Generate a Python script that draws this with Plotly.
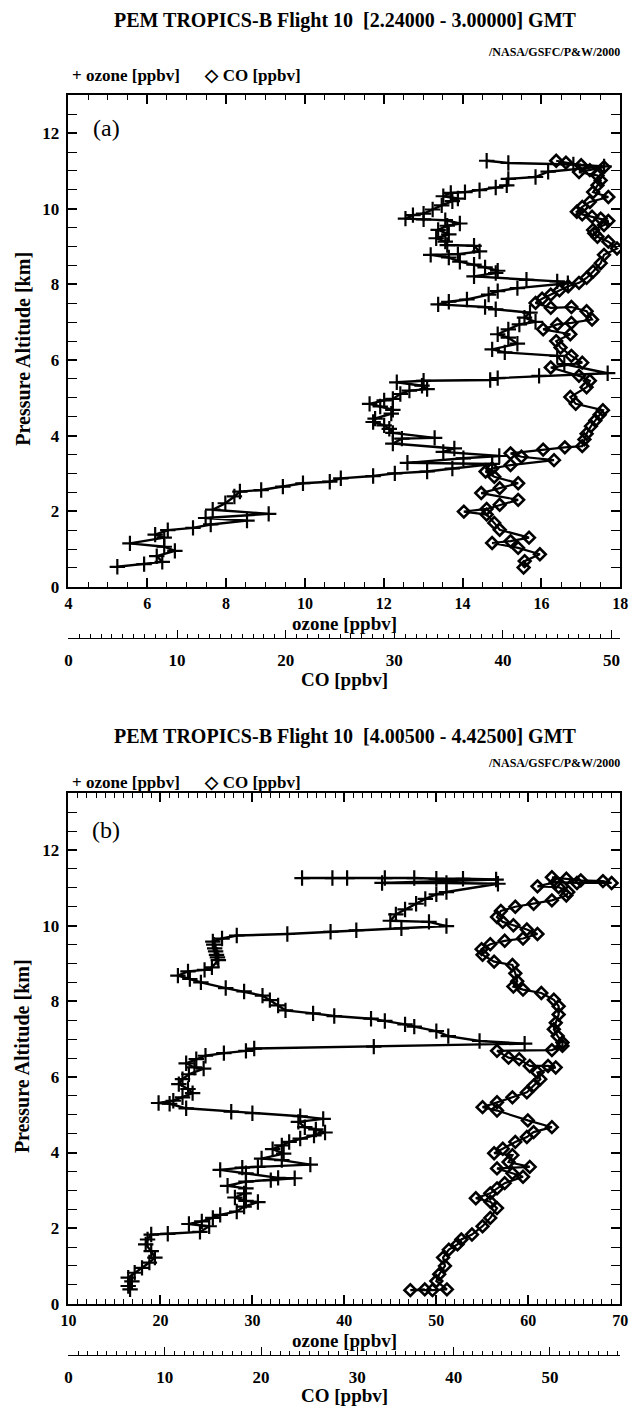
import plotly.graph_objects as go

W, H = 639, 1418
SERIF = "Liberation Serif"

# ---- Flight 10, 2.24000 - 3.00000 GMT ----
alt_o3_a = [11.27, 11.21, 11.17, 11.12, 10.98, 10.84, 10.79, 10.62, 10.56, 10.49,
            10.44, 10.42, 10.33, 10.27, 10.20, 10.09, 9.98, 9.87, 9.83, 9.74,
            9.72, 9.70, 9.61, 9.55, 9.44, 9.32, 9.22, 9.13, 9.04, 9.02,
            8.87, 8.80, 8.78, 8.71, 8.60, 8.52, 8.45, 8.36, 8.30, 8.21,
            8.12, 8.08, 8.03, 7.90, 7.82, 7.73, 7.60, 7.54, 7.47, 7.40,
            7.34, 7.25, 7.12, 7.01, 6.94, 6.81, 6.68, 6.59, 6.43, 6.28,
            6.20, 6.11, 5.89, 5.65, 5.58, 5.52, 5.47, 5.45, 5.41, 5.32,
            5.23, 5.19, 5.10, 4.97, 4.93, 4.84, 4.77, 4.68, 4.58, 4.45,
            4.36, 4.27, 4.18, 4.07, 3.94, 3.92, 3.79, 3.66, 3.57, 3.46,
            3.40, 3.28, 3.25, 3.13, 3.05, 3.00, 2.93, 2.87, 2.78, 2.74,
            2.65, 2.56, 2.52, 2.39, 2.21, 2.04, 1.93, 1.82, 1.75, 1.65,
            1.56, 1.50, 1.38, 1.30, 1.15, 1.06, 0.95, 0.81, 0.66, 0.60,
            0.53]
o3_a = [14.61, 15.16, 16.81, 17.59, 16.17, 15.85, 15.16, 15.12, 14.84, 14.43,
        14.06, 13.70, 13.51, 13.88, 13.74, 13.47, 13.24, 13.01, 12.74, 12.55,
        13.01, 13.56, 13.93, 13.61, 13.38, 13.65, 13.33, 13.56, 13.61, 14.29,
        14.43, 13.88, 13.19, 13.65, 13.93, 14.29, 14.57, 14.89, 14.84, 14.29,
        15.62, 16.40, 16.67, 15.39, 14.89, 14.66, 14.11, 13.65, 13.38, 14.57,
        14.84, 15.71, 15.57, 15.85, 15.44, 15.16, 14.89, 15.16, 15.39, 14.75,
        15.07, 16.40, 16.58, 17.68, 15.94, 14.89, 14.70, 13.01, 12.33, 12.97,
        13.10, 12.65, 12.42, 12.23, 12.01, 11.64, 11.91, 12.23, 12.19, 11.78,
        11.73, 12.01, 12.14, 12.23, 13.29, 12.46, 12.23, 13.79, 13.51, 14.93,
        14.02, 12.60, 14.75, 13.74, 13.10, 12.28, 11.73, 10.91, 10.63, 9.95,
        9.44, 8.89, 8.35, 8.21, 7.98, 7.66, 9.08, 7.48, 8.53, 7.61,
        7.16, 6.52, 6.20, 6.43, 5.56, 6.43, 6.70, 6.24, 6.38, 5.92,
        5.24]
alt_co_a = [11.27, 11.22, 11.15, 11.10, 11.02, 10.97, 10.88, 10.75, 10.62, 10.44,
            10.31, 10.18, 10.05, 9.92, 9.85, 9.79, 9.74, 9.68, 9.57, 9.44,
            9.35, 9.26, 9.13, 8.95, 8.78, 8.56, 8.34, 8.17, 8.04, 7.95,
            7.84, 7.73, 7.62, 7.51, 7.38, 7.40, 7.29, 7.07, 6.98, 6.94,
            6.81, 6.68, 6.50, 6.33, 6.11, 5.93, 5.80, 5.58, 5.45, 5.28,
            5.02, 4.84, 4.67, 4.55, 4.40, 4.25, 4.05, 3.90, 3.72, 3.69,
            3.63, 3.53, 3.44, 3.35, 3.22, 3.13, 3.05, 2.91, 2.74, 2.61,
            2.48, 2.30, 2.17, 2.06, 1.99, 1.91, 1.69, 1.51, 1.30, 1.21,
            1.16, 1.03, 0.86, 0.68, 0.51]
co_a = [44.9, 45.8, 47.2, 49.3, 48.0, 47.0, 48.7, 49.0, 48.7, 48.3,
        49.7, 48.0, 47.3, 46.8, 47.3, 48.2, 49.0, 49.7, 49.3, 48.3,
        48.4, 48.7, 49.7, 50.5, 49.3, 49.0, 48.3, 47.7, 47.0, 46.0,
        45.2, 44.4, 43.6, 43.0, 44.4, 46.3, 47.7, 48.2, 46.3, 45.0,
        43.7, 46.2, 44.9, 45.3, 46.3, 47.3, 44.4, 47.0, 48.0, 47.7,
        46.2, 46.7, 49.2, 48.9, 48.5, 48.1, 47.7, 47.5, 47.3, 45.7,
        43.7, 40.7, 41.7, 44.7, 40.7, 39.0, 38.4, 39.2, 41.4, 39.7,
        38.0, 41.4, 39.7, 38.5, 36.4, 38.5, 39.2, 39.7, 42.4, 40.7,
        39.0, 41.4, 43.4, 42.0, 41.9]

# ---- Flight 10, 4.00500 - 4.42500 GMT ----
alt_o3_b = [11.26, 11.26, 11.26, 11.26, 11.26, 11.24, 11.24, 11.22, 11.13, 11.13,
            11.11, 10.89, 10.83, 10.71, 10.58, 10.43, 10.30, 10.13, 10.10, 9.99,
            9.93, 9.88, 9.84, 9.78, 9.74, 9.66, 9.58, 9.50, 9.40, 9.32,
            9.23, 9.16, 9.09, 8.90, 8.83, 8.79, 8.68, 8.59, 8.50, 8.35,
            8.26, 8.15, 8.03, 7.89, 7.76, 7.68, 7.61, 7.54, 7.48, 7.39,
            7.33, 7.21, 7.08, 6.95, 6.88, 6.80, 6.75, 6.69, 6.63, 6.56,
            6.47, 6.36, 6.25, 6.22, 6.07, 5.94, 5.81, 5.68, 5.57, 5.46,
            5.37, 5.31, 5.29, 5.17, 5.08, 5.04, 4.96, 4.89, 4.81, 4.67,
            4.61, 4.53, 4.45, 4.37, 4.28, 4.19, 4.09, 3.97, 3.84, 3.80,
            3.68, 3.62, 3.60, 3.54, 3.45, 3.33, 3.32, 3.27, 3.23, 3.12,
            3.05, 2.92, 2.81, 2.72, 2.69, 2.57, 2.44, 2.35, 2.27, 2.18,
            2.11, 2.05, 1.90, 1.85, 1.83, 1.70, 1.57, 1.39, 1.22, 1.09,
            0.95, 0.82, 0.69, 0.59, 0.47, 0.38]
o3_b = [35.4, 38.7, 40.3, 44.4, 47.6, 50.0, 52.9, 56.5, 44.1, 51.1,
        56.7, 51.1, 50.0, 48.8, 47.8, 46.6, 45.6, 45.0, 49.2, 51.1,
        46.2, 41.3, 38.5, 33.8, 28.3, 26.7, 25.7, 25.8, 25.9, 26.0,
        26.1, 26.2, 26.3, 25.6, 24.8, 23.0, 21.9, 23.2, 24.4, 27.1,
        29.1, 31.1, 31.9, 32.8, 33.6, 36.6, 38.9, 42.9, 44.4, 46.6,
        47.6, 50.0, 51.3, 54.7, 59.6, 43.2, 30.2, 29.3, 26.9, 24.9,
        23.9, 22.8, 23.7, 24.7, 23.1, 22.4, 22.0, 23.0, 23.5, 22.4,
        21.4, 19.8, 21.0, 22.8, 27.7, 30.0, 35.2, 37.7, 35.0, 35.7,
        36.9, 37.9, 36.7, 35.2, 34.0, 33.2, 32.2, 33.4, 31.0, 33.2,
        36.3, 30.6, 28.9, 26.5, 29.3, 32.8, 34.6, 32.0, 29.3, 27.3,
        29.3, 29.1, 28.1, 29.3, 30.6, 29.1, 28.3, 26.5, 25.7, 24.5,
        23.1, 25.3, 24.3, 20.8, 19.0, 18.6, 18.4, 19.0, 19.4, 18.8,
        18.0, 17.2, 16.5, 16.9, 16.5, 16.7]
alt_co_b = [11.28, 11.24, 11.20, 11.18, 11.13, 11.13, 11.15, 11.04, 11.02, 10.89,
            10.80, 10.67, 10.58, 10.50, 10.39, 10.23, 10.10, 10.01, 9.90, 9.78,
            9.66, 9.60, 9.51, 9.38, 9.23, 9.05, 8.96, 8.74, 8.53, 8.39,
            8.31, 8.22, 8.04, 7.87, 7.65, 7.43, 7.26, 7.08, 6.91,
            6.82, 6.71, 6.69, 6.51, 6.47, 6.29, 6.29, 6.25, 6.12, 5.94, 5.77,
            5.59, 5.46, 5.33, 5.20, 5.11, 4.85, 4.67, 4.54, 4.41, 4.28,
            4.10, 3.98, 3.93, 3.75, 3.62, 3.58, 3.45, 3.36, 3.19, 3.05,
            2.92, 2.79, 2.70, 2.53, 2.27, 2.05, 1.83, 1.70, 1.57, 1.43,
            1.22, 1.00, 0.78, 0.60, 0.38, 0.36, 0.36, 0.38]
co_b = [50.2, 51.7, 53.2, 55.5, 56.4, 52.8, 50.6, 48.7, 50.9, 51.9,
        51.7, 50.2, 48.3, 46.4, 44.9, 44.5, 45.1, 46.2, 47.6, 48.7,
        47.2, 45.3, 43.8, 42.9, 43.0, 44.2, 46.1, 46.4, 46.6, 46.2,
        47.2, 49.1, 50.4, 50.9, 50.9, 50.6, 50.4, 50.8, 51.3,
        51.3, 50.2, 44.5, 45.7, 46.8, 47.9, 49.8, 50.6, 48.7, 49.0, 48.3,
        47.6, 46.1, 44.5, 43.0, 44.5, 47.7, 50.2, 48.3, 47.6, 46.4,
        45.1, 44.2, 46.1, 45.7, 47.9, 44.5, 46.1, 47.2, 45.3, 44.5,
        43.8, 42.3, 43.8, 44.5, 43.8, 43.0, 41.9, 40.8, 40.4, 39.5,
        38.9, 39.1, 38.5, 38.2, 39.3, 37.8, 35.5, 37.0]

titles = ["PEM TROPICS-B Flight 10\u00a0\u00a0[2.24000 - 3.00000] GMT",
          "PEM TROPICS-B Flight 10\u00a0\u00a0[4.00500 - 4.42500] GMT"]
tags = ["(a)", "(b)"]
o3_ranges = [[4, 18], [10, 70]]
o3_dtick = [2, 10]
o3_minor = [0.5, 1]
co_ranges = [[0, 50.8], [0, 57.3]]
alt_ranges = [[0, 13], [0, 13.5]]
credit = "/NASA/GSFC/P&W/2000"
legend_text = "+ ozone [ppbv]\u00a0\u00a0\u00a0\u00a0\u00a0 \u25c7 CO [ppbv]"

panels = [(alt_o3_a, o3_a, alt_co_a, co_a), (alt_o3_b, o3_b, alt_co_b, co_b)]

# page layout in pixels: plot box top/bottom and text rows for each panel
boxes = [dict(top=96, bottom=591, title=21, credit=52, legend=76, tag=129,
              xlab=628, coline=643, colab=684),
         dict(top=799, bottom=1313, title=742, credit=768, legend=788, tag=836,
              xlab=1350, coline=1365, colab=1405)]


def fx(x):
    return x / W


def fy(y):
    return 1 - y / H


bold = dict(family=SERIF, color="black", weight="bold")
fig = go.Figure()
annotations = []
layout = {}

for i, (ya, xo, yc, xc) in enumerate(panels):
    b = boxes[i]
    ax_o3 = "x" if i == 0 else "x3"
    ax_y = "y" if i == 0 else "y2"
    ax_co = "x2" if i == 0 else "x4"

    fig.add_trace(go.Scatter(
        x=xc, y=yc, xaxis=ax_co, yaxis=ax_y, mode="lines+markers",
        line=dict(color="black", width=2.2),
        marker=dict(symbol="diamond-open", size=9, color="black",
                    line=dict(color="black", width=2.6)),
        hoverinfo="skip"))
    fig.add_trace(go.Scatter(
        x=xo, y=ya, xaxis=ax_o3, yaxis=ax_y, mode="lines+markers",
        line=dict(color="black", width=2.4),
        marker=dict(symbol="cross-thin", size=11, color="black",
                    line=dict(color="black", width=2.2)),
        hoverinfo="skip"))

    dom_x = [fx(62), fx(628)]
    common = dict(showgrid=False, zeroline=False, showline=True,
                  linecolor="black", ticks="inside", tickcolor="black")
    layout["xaxis" if i == 0 else "xaxis3"] = dict(
        domain=dom_x, anchor=ax_y, range=o3_ranges[i], dtick=o3_dtick[i],
        tick0=0, ticklen=9, tickwidth=1.5, linewidth=1.8, mirror="allticks",
        minor=dict(dtick=o3_minor[i], ticks="inside", ticklen=5, tickwidth=1,
                   tickcolor="black"),
        tickfont=dict(size=16, **bold), ticklabelstandoff=1, **common)
    layout["xaxis2" if i == 0 else "xaxis4"] = dict(
        domain=dom_x, overlaying=ax_o3, anchor="free",
        position=fy(b["coline"]), side="bottom", range=co_ranges[i],
        dtick=10, tick0=0, ticklen=8, tickwidth=1.2, linewidth=1.2,
        minor=dict(dtick=1, ticks="inside", ticklen=4, tickwidth=1,
                   tickcolor="black"),
        tickfont=dict(size=17, **bold), ticklabelstandoff=6, **common)
    layout["yaxis" if i == 0 else "yaxis2"] = dict(
        domain=[fy(b["bottom"]), fy(b["top"])], anchor=ax_o3,
        range=alt_ranges[i], dtick=2, ticklen=9, tickwidth=1.5, linewidth=1.8,
        mirror="allticks",
        minor=dict(dtick=0.5, ticks="inside", ticklen=5, tickwidth=1,
                   tickcolor="black"),
        tickfont=dict(size=17, **bold), ticklabelstandoff=4, **common)

    annotations += [
        dict(text=titles[i], x=fx(346), y=fy(b["title"]),
             font=dict(size=20, **bold)),
        dict(text=credit, x=fx(630), y=fy(b["credit"]), xanchor="right",
             font=dict(size=12, **bold)),
        dict(text=legend_text, x=fx(64), y=fy(b["legend"]), xanchor="left",
             font=dict(size=17, **bold)),
        dict(text=tags[i], x=fx(101), y=fy(b["tag"]),
             font=dict(size=24, family=SERIF, color="black")),
        dict(text="Pressure Altitude [km]", x=fx(15),
             y=fy((b["top"] + b["bottom"]) / 2 + 8),
             textangle=-90, font=dict(size=20, **bold)),
        dict(text="ozone [ppbv]", x=fx(345), y=fy(b["xlab"]),
             font=dict(size=19, **bold)),
        dict(text="CO [ppbv]", x=fx(345), y=fy(b["colab"]),
             font=dict(size=19, **bold)),
    ]

for a in annotations:
    a.update(xref="paper", yref="paper", showarrow=False)
    a.setdefault("xanchor", "center")
    a.setdefault("yanchor", "middle")

fig.update_layout(
    width=W, height=H, autosize=False,
    margin=dict(l=0, r=0, t=0, b=0),
    paper_bgcolor="white", plot_bgcolor="white",
    showlegend=False, annotations=annotations, **layout)

fig.write_html("out.html")
